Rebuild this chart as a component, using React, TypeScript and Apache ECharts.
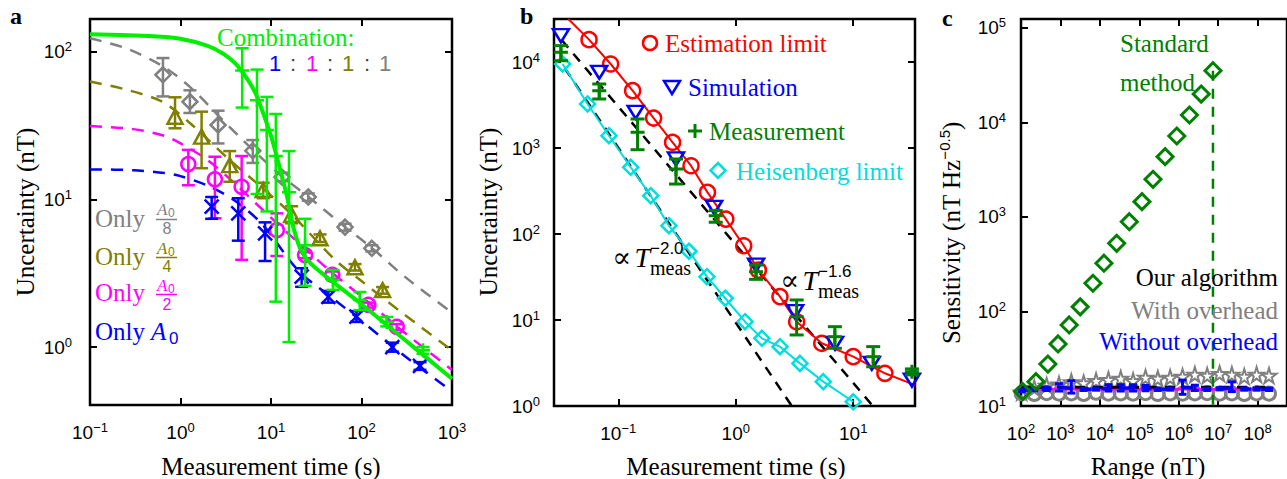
import React, { useEffect, useRef } from 'react';
import * as echarts from 'echarts';

// ---------------- tick exponents ----------------
const aXExp = [-1, 0, 1, 2, 3];
const aYExp = [0, 1, 2];
const bXExp = [-1, 0, 1];
const bYExp = [0, 1, 2, 3, 4];
const cXExp = [2, 3, 4, 5, 6, 7, 8];
const cYExp = [1, 2, 3, 4, 5];

// ---------------- panel a ----------------
const aGrayT = [0.64, 1.27, 2.6, 6.3, 13.2, 25.8, 65.8, 130];
const aGrayU = [70, 46, 32, 21.4, 14.2, 10.4, 6.5, 4.67];
const aGrayLo = [50, 38.6, 24, 17.7, 13.3, 9.8, 6.15, 4.45];
const aGrayHi = [91, 55, 40, 25.3, 15.2, 11.0, 6.85, 4.9];

const aOliveT = [0.87, 1.71, 3.5, 8.2, 16.9, 34.8, 84.7, 171];
const aOliveU = [36.4, 26.7, 17.1, 11.6, 7.85, 5.46, 3.47, 2.43];
const aOliveLo = [30.4, 16.3, 13.2, 10.2, 6.9, 5.15, 3.3, 2.3];
const aOliveHi = [49.3, 39.4, 21.3, 13, 9.0, 5.8, 3.65, 2.55];

const aMagT = [1.22, 2.4, 4.74, 11.6, 23.8, 47.6, 119, 245];
const aMagU = [17.4, 13.7, 12.2, 6.2, 4.2, 3.08, 1.93, 1.37];
const aMagLo = [12.5, 7.46, 3.9, 4.14, 4.0, 2.9, 1.85, 1.3];
const aMagHi = [21.7, 19.5, 19.7, 8.06, 4.4, 3.25, 2.0, 1.43];

const aBlueT = [2.21, 4.35, 8.6, 21.8, 43, 88, 219, 443];
const aBlueU = [8.94, 8.06, 5.9, 3.0, 2.19, 1.61, 1.0, 0.746];
const aBlueLo = [7.4, 5.26, 3.83, 2.56, 2.0, 1.48, 0.93, 0.7];
const aBlueHi = [10.4, 10.2, 7.0, 3.42, 2.4, 1.75, 1.07, 0.79];

const aCombT = [4.8, 7.0, 9.0, 11.3, 15.8, 23.8, 48.4, 96, 190, 478];
const aCombU = [75, 47, 29.6, 19.7, 11.2, 4.9, 2.85, 2.08, 1.48, 0.95];
const aCombLo = [42, 10.9, 8.3, 2.03, 1.08, 2.6, 2.44, 1.78, 1.38, 0.9];
const aCombHi = [106, 76, 49.6, 38, 21.3, 7.4, 3.33, 2.36, 1.6, 1.0];

const aGrayCurveT = [0.1, 0.26, 0.64, 1.27, 2.87, 6.3, 13, 26, 66, 130, 300, 1000];
const aGrayCurveU = [124, 105, 80, 58, 35, 21.7, 14.5, 10.4, 6.5, 4.7, 3.0, 1.71];
const aOliveCurveT = [0.1, 0.24, 0.63, 1.27, 3.5, 8, 17, 51, 100, 266, 1000];
const aOliveCurveU = [63, 56, 46, 33, 18.5, 12, 7.9, 3.9, 2.8, 1.75, 0.95];
const aMagCurveT = [0.1, 0.3, 0.67, 1, 2, 4, 9, 20, 50, 100, 300, 1000];
const aMagCurveU = [31.5, 30, 27, 24, 18.5, 12.8, 8.0, 5.1, 3.1, 2.2, 1.25, 0.7];
const aBlueCurveT = [0.1, 0.3, 0.67, 1, 2, 4, 8, 20, 50, 100, 300, 1000];
const aBlueCurveU = [16, 15.8, 15.1, 14.4, 12.4, 9.8, 6.8, 3.3, 2.1, 1.5, 0.87, 0.5];
const aCombCurveT = [0.1, 0.5, 1, 2, 3, 4, 5, 6, 7, 8, 10, 12, 15, 18, 22, 30, 100, 300, 1000];
const aCombCurveU = [132, 128, 123, 110, 97, 84, 71, 60, 50, 40, 27, 18, 10.5, 6.2, 4.4, 3.5, 1.95, 1.12, 0.61];

// ---------------- panel b ----------------
const bEstT = [0.0564, 0.0861, 0.1325, 0.2, 0.29, 0.416, 0.575, 0.823, 1.17, 1.56, 2.38, 3.3, 5.4, 10, 18.6];
const bEstU = [18200, 9480, 4640, 2230, 1165, 622, 305, 149, 73, 38, 18.7, 9.55, 5.36, 3.75, 2.4];
const bEstLineT = [0.0376, 0.0564, 0.0861, 0.1325, 0.2, 0.29, 0.416, 0.575, 0.823, 1.17, 1.56, 2.38, 3.3, 5.4, 10, 18.6, 33.6];
const bEstLineU = [31600, 18200, 9480, 4640, 2230, 1165, 622, 305, 149, 73, 38, 18.7, 9.55, 5.36, 3.75, 2.4, 1.75];

const bSimT = [0.0325, 0.0689, 0.1406, 0.31, 0.655, 1.49, 3.2, 7.0, 14.4, 31.6];
const bSimU = [20200, 7590, 2600, 745, 204, 43.6, 12.5, 5.36, 3.14, 2.0];

const bMeasT = [0.0325, 0.0689, 0.146, 0.31, 0.676, 1.49, 3.3, 6.98, 14.8, 31.6];
const bMeasU = [12970, 4640, 1523, 570, 163, 36.5, 10.9, 6.4, 3.75, 2.5];
const bMeasLo = [10360, 3715, 955, 381, 137, 29.7, 6.7, 4.69, 2.86, 2.3];
const bMeasHi = [15500, 5550, 2175, 745, 187, 43.6, 17.1, 8.36, 4.9, 2.7];

const bHeisT = [0.0336, 0.0548, 0.0834, 0.1276, 0.189, 0.27, 0.4, 0.569, 0.815, 1.2, 1.67, 2.38, 3.52, 5.56, 10];
const bHeisU = [9480, 3250, 1390, 597, 279, 125, 63, 31.9, 17.9, 9.55, 6.12, 4.9, 3.13, 1.92, 1.12];

const bFit2T = [0.0351, 3.0];
const bFit2U = [8450, 1.0];
const bFit16T = [0.033, 14.7];
const bFit16U = [18000, 1.0];

// ---------------- panel c ----------------
const cStdR = [110, 239, 481, 871, 1667, 3170, 6670, 12700, 26700, 55900, 117000, 223000, 452000, 895000, 1870000, 3720000, 7400000];
const cStdS = [14.2, 18.1, 27.8, 45.3, 72, 112, 199, 324, 527, 891, 1453, 2506, 4350, 7194, 12000, 20000, 35300];
const cStdLimitR = [7400000, 7400000];
const cStdLimitS = [35300, 10];

const cAlgR = [104, 217, 447, 920, 1890, 3890, 8020, 16500, 33900, 69700, 144000, 295000, 607000, 1250000, 2570000, 5280000, 10900000, 22300000, 46000000, 94600000, 195000000];
const cWithOverhead = [14, 15.5, 16.5, 17, 18, 17.5, 18.5, 19, 19.5, 18.5, 20, 19.5, 20, 20.5, 21.5, 21, 22, 21.5, 20.5, 21.5, 21];
const cGrayCircle = [13.6, 13.4, 13.7, 13.5, 13.6, 13.4, 13.8, 13.5, 13.6, 13.5, 13.7, 13.4, 13.6, 13.5, 13.6, 13.7, 13.5, 13.6, 13.4, 13.6, 13.5];
const cNoOverhead = [14.6, 14.9, 15.2, 15.6, 15.4, 15.0, 15.1, 15.4, 15.5, 15.5, 15.4, 15.0, 15.1, 15.8, 15.4, 15.0, 15.2, 15.6, 15.1, 15.1, 15.0];
const cNoOverheadLo = [14.1, 14.5, 14.6, 14.4, 13.7, 14.6, 14.7, 14.4, 14.4, 14.4, 14.5, 14.6, 14.7, 13.3, 14.6, 14.6, 14.8, 14.2, 14.7, 14.7, 14.6];
const cNoOverheadHi = [15.1, 15.3, 15.8, 17.2, 18.5, 15.4, 15.5, 16.8, 16.8, 16.8, 16.5, 15.4, 15.5, 18.8, 16.6, 15.4, 15.6, 18.0, 15.5, 15.5, 15.5];
const cAlgLineR = [100, 250000000];
const cAlgLineS = [15.8, 15.8];
const cMagLineR = [100, 250000000];
const cMagLineS = [15.0, 15.0];

// ---------------- styling ----------------
const SERIF = '"Liberation Serif", "Times New Roman", "DejaVu Serif", serif';
const SANS = '"Liberation Sans", Arial, Helvetica, sans-serif';
const GRAY = '#808080';
const OLIVE = '#808000';
const MAG = '#ff00ff';
const BLUE = '#0000ff';
const LIME = '#00ee00';
const RED = '#ff0000';
const DKGREEN = '#008000';
const CYAN = '#00dede';

const L = (v: number) => Math.log10(v);
const pts = (xs: number[], ys: number[]) => xs.map((x, i) => [L(x), L(ys[i])]);
const bars = (xs: number[], lo: number[], hi: number[]) => xs.map((x, i) => [L(x), L(lo[i]), L(hi[i])]);

const powLabel = (v: number) => {
  const e = Math.round(v);
  const s = e < 0 ? '\u2212' + -e : String(e);
  return `{b|10}{s|${s}}`;
};
const labelRich = {
  b: { fontFamily: SANS, fontSize: 19, color: '#000', lineHeight: 22 },
  s: { fontFamily: SANS, fontSize: 13, color: '#000', padding: [0, 0, 10, 0] },
};

function axis(grid: number, min: number, max: number, ticks: number[], position: string, labels: boolean, margin = 12) {
  return {
    type: 'value',
    gridIndex: grid,
    min,
    max,
    position,
    axisLine: { show: false, onZero: false },
    splitLine: { show: false },
    axisTick: { show: true, inside: true, length: 7, lineStyle: { color: '#000', width: 2 }, customValues: ticks },
    axisLabel: { show: labels, customValues: ticks, formatter: powLabel, rich: labelRich, margin },
  };
}

function lineS(xi: number, yi: number, data: number[][], color: string, width: number, dash: any, z = 2, smooth: any = false) {
  return {
    type: 'line', xAxisIndex: xi, yAxisIndex: yi, data, symbol: 'none', showSymbol: false, silent: true, z, smooth,
    lineStyle: { color, width, type: dash },
  };
}

function scat(xi: number, yi: number, data: number[][], symbol: string, size: any, color: string, bw = 2.5, rotate = 0, z = 5) {
  return {
    type: 'scatter', xAxisIndex: xi, yAxisIndex: yi, data, symbol, symbolSize: size, symbolRotate: rotate, silent: true, z,
    itemStyle: { color: 'rgba(0,0,0,0)', borderColor: color, borderWidth: bw, opacity: 1 },
  };
}

function errS(xi: number, yi: number, data: number[][], color: string, cap = 14, width = 2.5, z = 4) {
  return {
    type: 'custom', xAxisIndex: xi, yAxisIndex: yi, data, silent: true, z,
    encode: { x: 0, y: [1, 2] },
    renderItem: (_p: any, api: any) => {
      const x = api.value(0);
      const a = api.coord([x, api.value(1)]);
      const b = api.coord([x, api.value(2)]);
      const st = { stroke: color, lineWidth: width };
      return {
        type: 'group',
        children: [
          { type: 'line', shape: { x1: a[0], y1: a[1], x2: b[0], y2: b[1] }, style: st },
          { type: 'line', shape: { x1: a[0] - cap / 2, y1: a[1], x2: a[0] + cap / 2, y2: a[1] }, style: st },
          { type: 'line', shape: { x1: b[0] - cap / 2, y1: b[1], x2: b[0] + cap / 2, y2: b[1] }, style: st },
        ],
      };
    },
  };
}

const PLUS = 'path://M7,0L7,14M0,7L14,7';
const CROSS = 'path://M0,0L14,14M14,0L0,14';
const STAR = 'path://M50,0L61,35L98,35L68,57L79,91L50,70L21,91L32,57L2,35L39,35Z';

function txt(x: number, y: number, text: string, o: any = {}) {
  return {
    type: 'text', x, y, z: 100, silent: true, rotation: o.rotation || 0,
    style: {
      text,
      fontFamily: o.family || SERIF,
      fontSize: o.size || 25,
      fontStyle: o.style || 'normal',
      fontWeight: o.weight || 'normal',
      fill: o.color || '#000',
      align: o.align || 'left',
      verticalAlign: o.valign || 'middle',
      rich: o.rich,
    },
  };
}

function frac(x: number, yA: number, yLine: number, yDen: number, den: string, color: string) {
  return [
    txt(x, yA, 'A', { size: 17, style: 'italic', color }),
    txt(x + 11, yA + 4, '0', { size: 12, family: SANS, color }),
    { type: 'line', z: 100, silent: true, shape: { x1: x - 1, y1: yLine, x2: x + 20, y2: yLine }, style: { stroke: color, lineWidth: 1.5 } },
    txt(x + 10, yDen, den, { size: 16, family: SANS, color, align: 'center' }),
  ];
}

// "∝ T" followed by a two-line block holding the exponent and the "meas" subscript
function propTo(xRight: number, yMid: number, exp: string) {
  return [
    {
      type: 'text', x: xRight, y: yMid, z: 100, silent: true,
      style: {
        text: '{p|\u221D} {t|T}',
        align: 'right', verticalAlign: 'middle',
        rich: {
          p: { fontFamily: SERIF, fontSize: 28, fill: '#000' },
          t: { fontFamily: SERIF, fontSize: 28, fontStyle: 'italic', fill: '#000' },
        },
      },
    },
    {
      type: 'text', x: xRight, y: yMid + 1, z: 100, silent: true,
      style: {
        text: `{e|${exp}}\n{m|meas}`,
        align: 'left', verticalAlign: 'middle',
        rich: {
          e: { fontFamily: SANS, fontSize: 17, fill: '#000', lineHeight: 19 },
          m: { fontFamily: SERIF, fontSize: 20, fill: '#000', lineHeight: 19 },
        },
      },
    },
  ];
}

function buildOption() {
  const aX = [-1, 3];
  const aY = [-0.393, 2.2237];
  const bX = [-1.547, 1.526];
  const bY = [0, 4.5];
  const cX = [2, 8.747];
  const cY = [1, 5.095];

  const gridBase = { show: true, borderColor: '#000', borderWidth: 2.5, backgroundColor: 'rgba(0,0,0,0)', containLabel: false };

  const series: any[] = [
    // ---- panel a ----
    lineS(0, 0, pts(aGrayCurveT, aGrayCurveU), GRAY, 2.5, [12, 9], 2, 0.3),
    lineS(0, 0, pts(aOliveCurveT, aOliveCurveU), OLIVE, 2.5, [12, 9], 2, 0.3),
    lineS(0, 0, pts(aMagCurveT, aMagCurveU), MAG, 2.5, [12, 9], 2, 0.3),
    lineS(0, 0, pts(aBlueCurveT, aBlueCurveU), BLUE, 2.5, [12, 9], 2, 0.3),
    errS(0, 0, bars(aGrayT, aGrayLo, aGrayHi), GRAY, 13),
    scat(0, 0, pts(aGrayT, aGrayU), 'diamond', 15, GRAY),
    errS(0, 0, bars(aOliveT, aOliveLo, aOliveHi), OLIVE, 13),
    scat(0, 0, pts(aOliveT, aOliveU), 'triangle', [15, 14], OLIVE),
    errS(0, 0, bars(aMagT, aMagLo, aMagHi), MAG, 13),
    scat(0, 0, pts(aMagT, aMagU), 'circle', 14, MAG),
    errS(0, 0, bars(aBlueT, aBlueLo, aBlueHi), BLUE, 13),
    scat(0, 0, pts(aBlueT, aBlueU), CROSS, 14, BLUE),
    lineS(0, 0, pts(aCombCurveT, aCombCurveU), LIME, 4, 'solid', 6, 0.3),
    errS(0, 0, bars(aCombT, aCombLo, aCombHi), LIME, 13, 2.5, 7),
    scat(0, 0, pts(aCombT, aCombU), PLUS, 14, LIME, 2.5, 0, 8),

    // ---- panel b ----
    lineS(2, 2, pts(bFit2T, bFit2U), '#000', 2.5, [10, 8], 2),
    lineS(2, 2, pts(bFit16T, bFit16U), '#000', 2.5, [10, 8], 2),
    lineS(2, 2, pts(bHeisT, bHeisU), CYAN, 2, 'solid', 3),
    scat(2, 2, pts(bHeisT, bHeisU), 'diamond', 15, CYAN),
    lineS(2, 2, pts(bEstLineT, bEstLineU), RED, 2, 'solid', 3),
    scat(2, 2, pts(bEstT, bEstU), 'circle', 15, RED),
    scat(2, 2, pts(bSimT, bSimU), 'triangle', [16, 13], BLUE, 2.5, 180),
    errS(2, 2, bars(bMeasT, bMeasLo, bMeasHi), DKGREEN, 14, 3, 6),
    scat(2, 2, pts(bMeasT, bMeasU), PLUS, 14, DKGREEN, 3, 0, 7),

    // ---- panel c ----
    scat(4, 4, pts(cAlgR, cGrayCircle), 'circle', 13, GRAY, 3, 0, 3),
    scat(4, 4, pts(cAlgR, cWithOverhead), STAR, 15, GRAY, 2, 0, 3),
    lineS(4, 4, pts(cMagLineR, cMagLineS), MAG, 2.5, 'solid', 4),
    lineS(4, 4, pts(cAlgLineR, cAlgLineS), '#000', 3, [10, 8], 5),
    lineS(4, 4, pts(cAlgR, cNoOverhead), BLUE, 3.5, [10, 10], 6),
    errS(4, 4, bars(cAlgR, cNoOverheadLo, cNoOverheadHi), BLUE, 8, 3, 6),
    lineS(4, 4, pts(cStdLimitR, cStdLimitS), DKGREEN, 2.5, [10, 8], 7),
    scat(4, 4, pts(cStdR, cStdS), 'diamond', 16, DKGREEN, 3, 0, 8),
  ];

  const graphic: any[] = [
    // panel letters
    txt(10, 16, 'a', { size: 24, weight: 'bold' }),
    txt(520, 16, 'b', { size: 24, weight: 'bold' }),
    txt(942, 18, 'c', { size: 24, weight: 'bold' }),
    // axis titles
    txt(25, 212, 'Uncertainty (nT)', { rotation: Math.PI / 2, align: 'center' }),
    txt(271, 466, 'Measurement time (s)', { align: 'center' }),
    txt(488, 212, 'Uncertainty (nT)', { rotation: Math.PI / 2, align: 'center' }),
    txt(736, 466, 'Measurement time (s)', { align: 'center' }),
    txt(1148, 466, 'Range (nT)', { align: 'center' }),
    {
      type: 'text', x: 951, y: 233, z: 100, silent: true, rotation: Math.PI / 2,
      style: {
        text: '{a|Sensitivity (nT Hz}{s|\u22120.5}{a|)}',
        align: 'center', verticalAlign: 'middle',
        rich: {
          a: { fontFamily: SERIF, fontSize: 25, fill: '#000', lineHeight: 28 },
          s: { fontFamily: SANS, fontSize: 15, fill: '#000', padding: [0, 0, 14, 0] },
        },
      },
    },
    // panel a annotations
    txt(217, 37, 'Combination:', { color: LIME }),
    txt(275, 63, '1', { family: SANS, size: 22, color: BLUE, align: 'center' }),
    txt(293, 63, ':', { family: SANS, size: 22, color: '#444', align: 'center' }),
    txt(312, 63, '1', { family: SANS, size: 22, color: MAG, align: 'center' }),
    txt(330, 63, ':', { family: SANS, size: 22, color: '#444', align: 'center' }),
    txt(348, 63, '1', { family: SANS, size: 22, color: OLIVE, align: 'center' }),
    txt(367, 63, ':', { family: SANS, size: 22, color: '#444', align: 'center' }),
    txt(385, 63, '1', { family: SANS, size: 22, color: GRAY, align: 'center' }),
    txt(95, 218, 'Only', { color: GRAY }),
    ...frac(157, 209, 219.5, 228, '8', GRAY),
    txt(95, 256, 'Only', { color: OLIVE }),
    ...frac(157, 248, 257.5, 266, '4', OLIVE),
    txt(95, 292, 'Only', { color: MAG }),
    ...frac(157, 285, 294.5, 304, '2', MAG),
    txt(95, 331, 'Only', { color: BLUE }),
    txt(151, 331, 'A', { color: BLUE, style: 'italic' }),
    txt(169, 338, '0', { color: BLUE, family: SANS, size: 17 }),
    // panel b legend
    { type: 'circle', z: 100, silent: true, shape: { cx: 650, cy: 43, r: 7 }, style: { fill: 'none', stroke: RED, lineWidth: 2.5 } },
    txt(665, 43, 'Estimation limit', { color: RED }),
    { type: 'polygon', z: 100, silent: true, shape: { points: [[664, 81], [680, 81], [672, 94]] }, style: { fill: 'none', stroke: BLUE, lineWidth: 2.5 } },
    txt(688, 87, 'Simulation', { color: BLUE }),
    { type: 'line', z: 100, silent: true, shape: { x1: 688, y1: 131, x2: 702, y2: 131 }, style: { stroke: DKGREEN, lineWidth: 3 } },
    { type: 'line', z: 100, silent: true, shape: { x1: 695, y1: 124, x2: 695, y2: 138 }, style: { stroke: DKGREEN, lineWidth: 3 } },
    txt(709, 131, 'Measurement', { color: DKGREEN }),
    { type: 'polygon', z: 100, silent: true, shape: { points: [[718, 163], [725.5, 170.5], [718, 178], [710.5, 170.5]] }, style: { fill: 'none', stroke: CYAN, lineWidth: 2.5 } },
    txt(736, 171, 'Heisenberg limit', { color: CYAN }),
    // panel b fit annotations
    ...propTo(650, 257, '\u22122.0'),
    ...propTo(818, 280, '\u22121.6'),
    // panel c legend
    txt(1120, 43, 'Standard', { color: DKGREEN }),
    txt(1120, 82, 'method', { color: DKGREEN }),
    txt(1278, 277, 'Our algorithm', { align: 'right' }),
    txt(1278, 310, 'With overhead', { align: 'right', color: GRAY }),
    txt(1278, 341, 'Without overhead', { align: 'right', color: BLUE }),
  ];

  return {
    animation: false,
    backgroundColor: '#ffffff',
    grid: [
      { ...gridBase, left: 90, top: 19, width: 362, height: 386 },
      { ...gridBase, left: 554, top: 19, width: 361, height: 387 },
      { ...gridBase, left: 1021, top: 19, width: 280, height: 387 },
    ],
    xAxis: [
      axis(0, aX[0], aX[1], aXExp, 'bottom', true, 16),
      axis(0, aX[0], aX[1], aXExp, 'top', false),
      axis(1, bX[0], bX[1], bXExp, 'bottom', true, 16),
      axis(1, bX[0], bX[1], bXExp, 'top', false),
      axis(2, cX[0], cX[1], cXExp, 'bottom', true, 16),
      axis(2, cX[0], cX[1], cXExp, 'top', false),
    ],
    yAxis: [
      axis(0, aY[0], aY[1], aYExp, 'left', true, 18),
      axis(0, aY[0], aY[1], aYExp, 'right', false),
      axis(1, bY[0], bY[1], bYExp, 'left', true, 14),
      axis(1, bY[0], bY[1], bYExp, 'right', false),
      axis(2, cY[0], cY[1], cYExp, 'left', true, 15),
    ],
    series,
    graphic,
  };
}

export default function App() {
  const ref = useRef<HTMLDivElement>(null);
  useEffect(() => {
    if (!ref.current) return;
    const chart = echarts.init(ref.current, null, { renderer: 'svg' });
    chart.setOption(buildOption() as any);
    return () => chart.dispose();
  }, []);
  return (
    <div
      ref={ref}
      style={{ position: 'absolute', left: 0, top: 0, width: 1287, height: 479, background: '#fff', overflow: 'hidden' }}
    />
  );
}
